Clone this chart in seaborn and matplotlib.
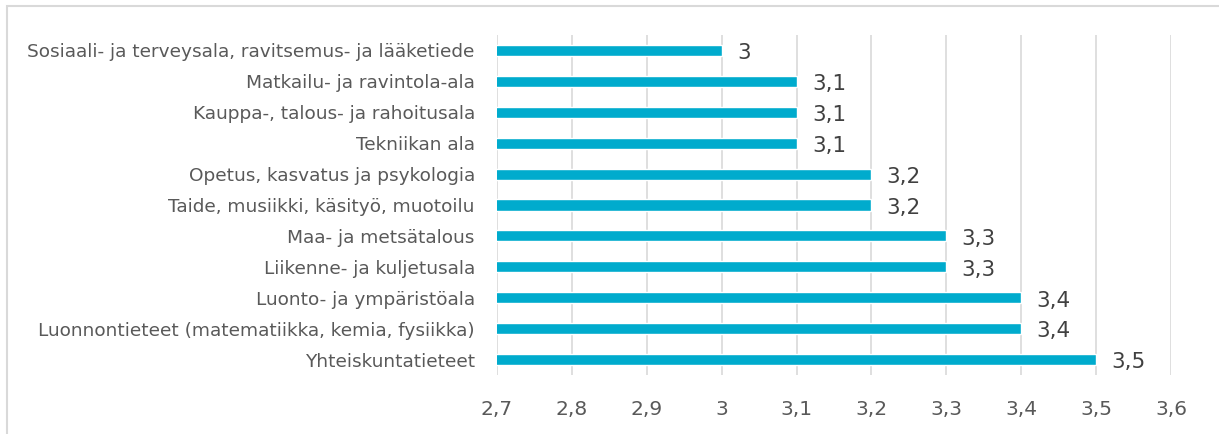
import matplotlib
matplotlib.use('Agg')
import matplotlib.pyplot as plt
import seaborn as sns
import pandas as pd
from matplotlib.patches import Rectangle

categories = [
    'Sosiaali- ja terveysala, ravitsemus- ja lääketiede',
    'Matkailu- ja ravintola-ala',
    'Kauppa-, talous- ja rahoitusala',
    'Tekniikan ala',
    'Opetus, kasvatus ja psykologia',
    'Taide, musiikki, käsityö, muotoilu',
    'Maa- ja metsätalous',
    'Liikenne- ja kuljetusala',
    'Luonto- ja ympäristöala',
    'Luonnontieteet (matematiikka, kemia, fysiikka)',
    'Yhteiskuntatieteet',
]
values = [3.0, 3.1, 3.1, 3.1, 3.2, 3.2, 3.3, 3.3, 3.4, 3.4, 3.5]
xticks = [2.7, 2.8, 2.9, 3.0, 3.1, 3.2, 3.3, 3.4, 3.5, 3.6]

def fi(v):
    return f'{v:g}'.replace('.', ',')

df = pd.DataFrame({'ala': categories, 'arvo': values})

sns.set_style('white')
plt.rcParams['font.family'] = ['DejaVu Sans']
text_col = '#595959'
bar_col = '#00ABCD'

fig = plt.figure(figsize=(12.19, 4.34), dpi=100)
ax = fig.add_axes([497 / 1219, 1 - 375 / 434, (1171 - 497) / 1219, 340 / 434])

sns.barplot(data=df, x='arvo', y='ala', orient='h', color=bar_col,
            width=0.36, ax=ax, saturation=1)

ax.set_xlim(2.7, 3.6)
ax.set_ylim(10.5, -0.5)
ax.set_xticks(xticks)
ax.set_xticklabels([fi(v) for v in xticks], fontsize=14.5, color=text_col)
ax.tick_params(axis='x', length=0, pad=18)
ax.tick_params(axis='y', length=0, pad=16)
for lbl in ax.get_yticklabels():
    lbl.set_fontsize(13.3)
    lbl.set_color(text_col)
ax.set_xlabel('')
ax.set_ylabel('')
ax.grid(axis='x', color='#D9D9D9', linewidth=1.2)
ax.set_axisbelow(True)
for s in ax.spines.values():
    s.set_visible(False)

for i, v in enumerate(values):
    ax.annotate(fi(v), xy=(v, i), xytext=(11, -2), textcoords='offset points',
                ha='left', va='center', fontsize=15.5, color='#404040')

fig.patches.append(Rectangle((7 / 1219, -0.05), 1.1, 1 - 6 / 434 + 0.05,
                             transform=fig.transFigure, fill=False,
                             edgecolor='#D9D9D9', linewidth=1.5))

fig.savefig('out.png', dpi=100)
